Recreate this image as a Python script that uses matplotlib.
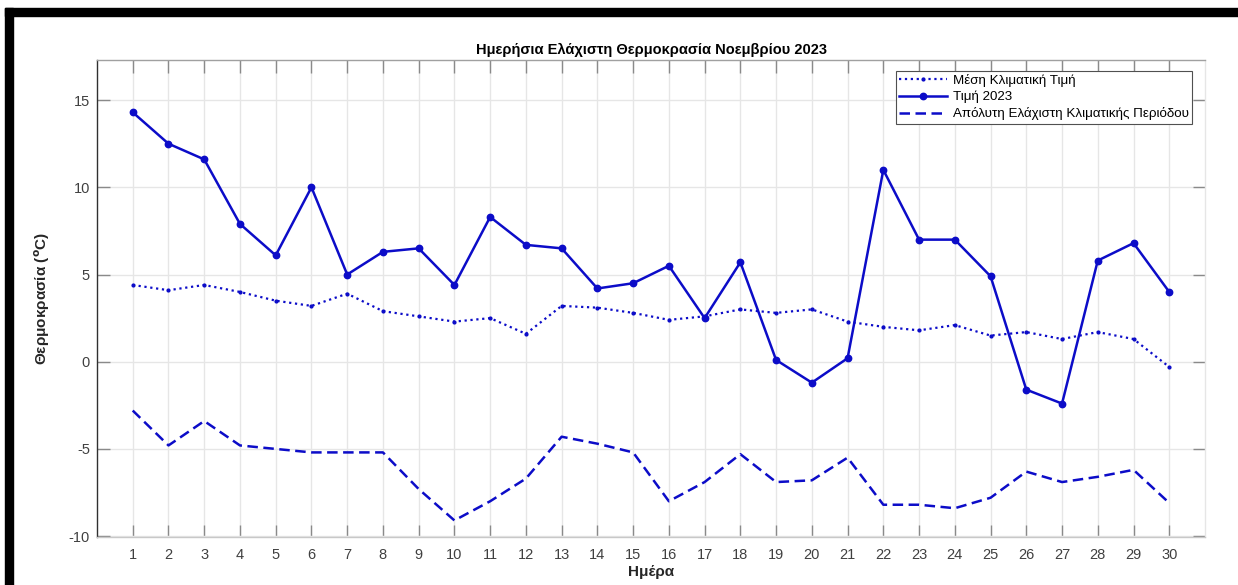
import matplotlib
matplotlib.use("Agg")
import matplotlib.pyplot as plt
from matplotlib.patches import Rectangle

plt.rcParams['font.family'] = ['Liberation Sans', 'DejaVu Sans']
plt.rcParams['axes.unicode_minus'] = False

days = list(range(1, 31))
mean_clim = [4.4, 4.1, 4.4, 4.0, 3.5, 3.2, 3.9, 2.9, 2.6, 2.3,
             2.5, 1.6, 3.2, 3.1, 2.8, 2.4, 2.6, 3.0, 2.8, 3.0,
             2.3, 2.0, 1.8, 2.1, 1.5, 1.7, 1.3, 1.7, 1.3, -0.3]
val_2023 = [14.3, 12.5, 11.6, 7.9, 6.1, 10.0, 5.0, 6.3, 6.5, 4.4,
            8.3, 6.7, 6.5, 4.2, 4.5, 5.5, 2.5, 5.7, 0.1, -1.2,
            0.2, 11.0, 7.0, 7.0, 4.9, -1.6, -2.4, 5.8, 6.8, 4.0]
abs_min = [-2.8, -4.8, -3.4, -4.8, -5.0, -5.2, -5.2, -5.2, -7.3, -9.1,
           -8.0, -6.7, -4.3, -4.7, -5.2, -8.0, -6.9, -5.3, -6.9, -6.8,
           -5.5, -8.2, -8.2, -8.4, -7.8, -6.3, -6.9, -6.6, -6.2, -8.1]
y_ticks = [-10, -5, 0, 5, 10, 15]

labels = ['Μέση Κλιματική Τιμή', 'Τιμή 2023',
          'Απόλυτη Ελάχιστη Κλιματικής Περιόδου']
title = 'Ημερήσια Ελάχιστη Θερμοκρασία Νοεμβρίου 2023'

blue = '#0c0cc8'
tick_col = '#404040'

fig = plt.figure(figsize=(12.38, 5.85), dpi=100)
ax = fig.add_axes([97/1238, 1-537/585, (1205-97)/1238, (537-60)/585])

ax.plot(days, mean_clim, linestyle=':', color=blue, linewidth=1.6,
        marker='o', markersize=2.0, label=labels[0])
ax.plot(days, val_2023, linestyle='-', color=blue, linewidth=1.8,
        marker='o', markersize=4.6, label=labels[1])
ax.plot(days, abs_min, linestyle=(0, (4.2, 2.2)), color=blue, linewidth=1.8,
        label=labels[2])

ax.set_xlim(0, 31)
ax.set_ylim(-10.05, 17.3)
ax.set_xticks(days)
ax.set_yticks(y_ticks)
ax.grid(True, color='#e6e6e6', linewidth=1.0)
ax.set_axisbelow(True)
ax.tick_params(axis='both', direction='in', length=9, width=1.0,
               color='#8a8a8a', labelcolor=tick_col, labelsize=10.5,
               top=True, right=True)
ax.tick_params(axis='y', which='both', right=True)
ax.tick_params(axis='x', pad=8)
ax.tick_params(axis='y', pad=5)

ax.spines['left'].set_color('#303030')
ax.spines['top'].set_color('#a0a0a0')
ax.spines['bottom'].set_color('#c8c8c8')
ax.spines['right'].set_color('#e6e6e6')
for s in ax.spines.values():
    s.set_linewidth(1.0)

ax.set_title(title, fontsize=10.5, fontweight='bold', pad=4)
ax.set_xlabel('Ημέρα', fontsize=11, fontweight='bold', color='#262626', labelpad=2)
ax.set_ylabel('Θερμοκρασία ($\\mathbf{^{o}}$C)', fontsize=11, fontweight='bold',
              color='#262626', labelpad=12)

leg = ax.legend(loc='upper right', bbox_to_anchor=(1192/1238, 1-70.5/585),
                bbox_transform=fig.transFigure, fontsize=9.6, frameon=True,
                fancybox=False, edgecolor='#505050', framealpha=1,
                handlelength=3.6, handletextpad=0.4, labelspacing=0.3,
                borderpad=0.25, borderaxespad=0)
leg.get_frame().set_linewidth(0.8)

# black image border (top and left)
fig.add_artist(Rectangle((5/1238, 1-16/585), 1, 8/585, transform=fig.transFigure,
                         color='black', zorder=10))
fig.add_artist(Rectangle((5/1238, 0), 7.5/1238, 1-8/585, transform=fig.transFigure,
                         color='black', zorder=10))

fig.savefig('out.png', dpi=100, facecolor='white')
